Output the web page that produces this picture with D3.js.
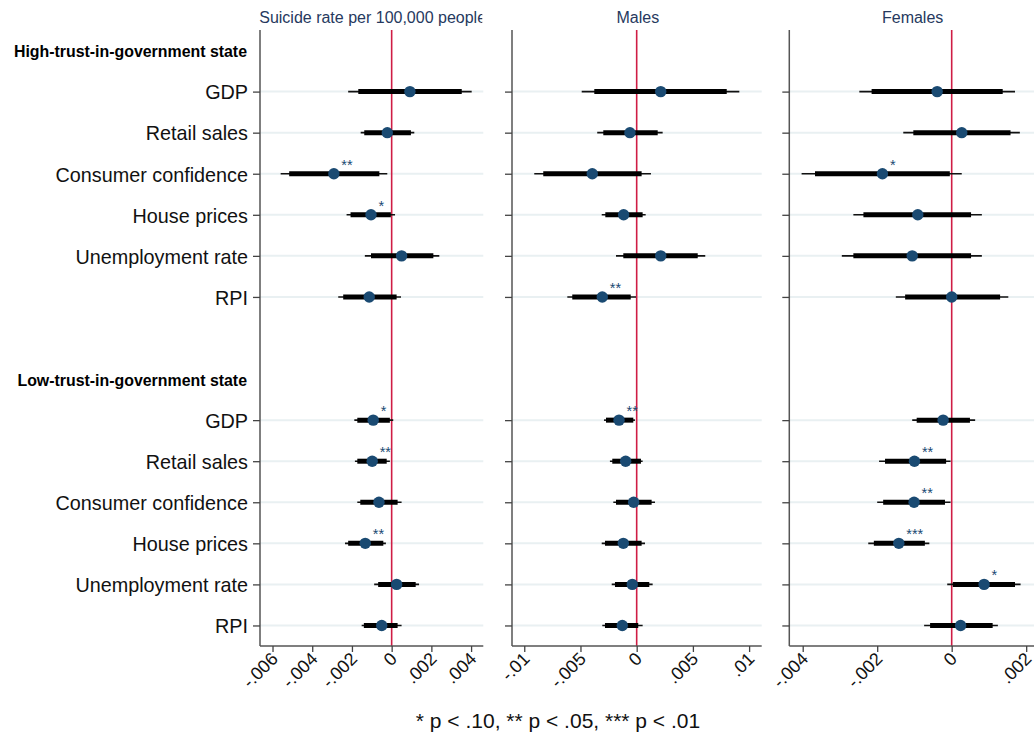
<!DOCTYPE html>
<html>
<head>
<meta charset="utf-8">
<script src="https://cdn.jsdelivr.net/npm/d3@7"></script>
<style>
  html, body { margin: 0; padding: 0; background: #fff; }
  svg { display: block; font-family: "Liberation Sans", Arial, Helvetica, sans-serif; }
</style>
</head>
<body>
<svg id="chart" width="1034" height="738"></svg>
<script>
// Row and group labels
const rowLabels = ["GDP", "Retail sales", "Consumer confidence", "House prices", "Unemployment rate", "RPI"];
const groupLabels = ["High-trust-in-government state", "Low-trust-in-government state"];
const panelTitles = ["Suicide rate per 100,000 people", "Males", "Females"];
const footnote = "* p < .10, ** p < .05, *** p < .01";

// Tick values of each panel's x axis
const totalTicks = [-0.006, -0.004, -0.002, 0, 0.002, 0.004];
const maleTicks = [-0.01, -0.005, 0, 0.005, 0.01];
const femaleTicks = [-0.004, -0.002, 0, 0.002];

// Coefficients: first 6 = high-trust state, last 6 = low-trust state
const totalEst = [0.00092, -0.00022, -0.00291, -0.00104, 0.0005, -0.00113,
                  -0.00093, -0.00098, -0.00064, -0.00133, 0.00025, -0.0005];
const totalCi90 = [[-0.00168, 0.00353], [-0.00138, 0.00097], [-0.00516, -0.00062], [-0.00207, -0.00004], [-0.00104, 0.0021], [-0.00244, 0.00025],
                   [-0.00173, -0.00009], [-0.00173, -0.00025], [-0.00158, 0.0003], [-0.00219, -0.00042], [-0.00068, 0.00121], [-0.0014, 0.0003]];
const totalCi95 = [[-0.00219, 0.00403], [-0.00156, 0.00114], [-0.00559, -0.00022], [-0.00227, 0.00017], [-0.00135, 0.0024], [-0.00269, 0.00047],
                   [-0.00188, 0.00008], [-0.00185, -0.00009], [-0.00173, 0.0005], [-0.00235, -0.00029], [-0.00088, 0.00138], [-0.00151, 0.0005]];
const totalStars = ["", "", "**", "*", "", "", "*", "**", "", "**", "", ""];

const maleEst = [0.00214, -0.0006, -0.00395, -0.00116, 0.00214, -0.00306,
                 -0.00157, -0.00098, -0.00027, -0.00119, -0.00039, -0.00128];
const maleCi90 = [[-0.00377, 0.00801], [-0.00297, 0.00187], [-0.00831, 0.00044], [-0.00279, 0.00053], [-0.00119, 0.00543], [-0.00573, -0.00053],
                  [-0.00273, -0.0003], [-0.00217, 0.00038], [-0.00184, 0.00133], [-0.00282, 0.00044], [-0.00193, 0.00112], [-0.00282, 0.00014]];
const maleCi95 = [[-0.00489, 0.00913], [-0.00351, 0.00231], [-0.00911, 0.00127], [-0.00311, 0.0008], [-0.00184, 0.0061], [-0.00617, -0.00006],
                  [-0.00291, -0.00015], [-0.00238, 0.00053], [-0.00208, 0.00163], [-0.00311, 0.00074], [-0.00222, 0.00142], [-0.00306, 0.00053]];
const maleStars = ["", "", "", "", "", "**", "**", "", "", "", "", ""];

const femaleEst = [-0.00039, 0.00027, -0.00186, -0.00091, -0.00106, 0.0,
                   -0.00023, -0.001, -0.00101, -0.00142, 0.00087, 0.00024];
const femaleCi90 = [[-0.00215, 0.00137], [-0.00103, 0.00158], [-0.00367, -0.00005], [-0.00237, 0.00052], [-0.00264, 0.00052], [-0.00125, 0.0013],
                    [-0.00094, 0.00049], [-0.00179, -0.00015], [-0.00184, -0.00018], [-0.00209, -0.00072], [0.00003, 0.0017], [-0.00058, 0.0011]];
const femaleCi95 = [[-0.00248, 0.0017], [-0.0013, 0.00183], [-0.00403, 0.00027], [-0.00264, 0.00081], [-0.00295, 0.00081], [-0.0015, 0.00152],
                    [-0.00106, 0.00063], [-0.00195, -0.00003], [-0.002, -0.00003], [-0.00224, -0.0006], [-0.00012, 0.00185], [-0.00074, 0.00124]];
const femaleStars = ["", "", "*", "", "", "", "", "**", "**", "***", "*", ""];

// ---- layout ----
const svg = d3.select("#chart");
const plotTop = 30, plotBottom = 646;
const navy = "#1a4a72";
const zeroRed = "#cf1d45";
const gridCol = "#e9f0f2";

// Vertical slots: header, 6 rows, spacer, header, 6 rows
const slots = ["h0", ...rowLabels.map((_, i) => "a" + i), "gap", "h1", ...rowLabels.map((_, i) => "b" + i)];
const y = d3.scalePoint().domain(slots).range([plotTop, plotBottom]).padding(0.5);
const rowKey = i => (i < 6 ? "a" + i : "b" + (i - 6));
const rowKeys = d3.range(12).map(rowKey);

const panels = [
  { title: panelTitles[0], left: 260, right: 483.3, domain: [-0.00663, 0.004615], ticks: totalTicks,
    est: totalEst, ci90: totalCi90, ci95: totalCi95, stars: totalStars, labels: true },
  { title: panelTitles[1], left: 512, right: 761.7, domain: [-0.01109, 0.01112], ticks: maleTicks,
    est: maleEst, ci90: maleCi90, ci95: maleCi95, stars: maleStars, labels: false },
  { title: panelTitles[2], left: 789.3, right: 1034, domain: [-0.00436, 0.00221], ticks: femaleTicks,
    est: femaleEst, ci90: femaleCi90, ci95: femaleCi95, stars: femaleStars, labels: false }
];

// Stata-style tick labels: no leading zero, plain hyphen for minus
const fmt = v => (v === 0 ? "0" : d3.format(".3~f")(v).replace("\u2212", "-").replace("0.", "."));

panels.forEach((p, pi) => {
  const x = d3.scaleLinear().domain(p.domain).range([p.left, p.right]);
  const g = svg.append("g");

  // light row guides
  g.selectAll("line.grid").data(rowKeys).join("line")
    .attr("x1", p.left).attr("x2", p.right)
    .attr("y1", d => y(d)).attr("y2", d => y(d))
    .attr("stroke", gridCol).attr("stroke-width", 2);

  // zero reference line
  g.append("line")
    .attr("x1", x(0)).attr("x2", x(0)).attr("y1", plotTop).attr("y2", plotBottom)
    .attr("stroke", zeroRed).attr("stroke-width", 1.6);

  // left axis with row ticks
  const yAxis = d3.axisLeft(y).tickValues(rowKeys).tickSize(7).tickPadding(5)
    .tickFormat(k => (p.labels ? rowLabels[+k.slice(1)] : ""));
  const ya = g.append("g").attr("transform", `translate(${p.left},0)`).call(yAxis);
  ya.select(".domain").attr("d", `M0,${plotTop}V${plotBottom}`).attr("stroke", "#555").attr("stroke-width", 1.5);
  ya.selectAll(".tick line").attr("stroke", "#444").attr("stroke-width", 1.3);
  ya.selectAll(".tick text").attr("font-size", 19.8).attr("fill", "#111").attr("dy", "0.37em")
    .attr("font-family", "Liberation Sans, Arial, sans-serif");

  // bottom axis
  const xAxis = d3.axisBottom(x).tickValues(p.ticks).tickSize(6).tickFormat(fmt);
  const xa = g.append("g").attr("transform", `translate(0,${plotBottom})`).call(xAxis);
  xa.select(".domain").attr("d", `M${p.left},0H${p.right}`).attr("stroke", "#555").attr("stroke-width", 1.5);
  xa.selectAll(".tick line").attr("stroke", "#444").attr("stroke-width", 1.3);
  xa.selectAll(".tick text")
    .attr("font-size", 18).attr("fill", "#111")
    .attr("font-family", "Liberation Sans, Arial, sans-serif")
    .attr("text-anchor", "end")
    .attr("dy", null)
    .attr("x", null).attr("y", null)
    .attr("transform", "translate(6,14) rotate(-45)");

  // 95% intervals (thin)
  g.selectAll("line.ci95").data(p.ci95).join("line")
    .attr("x1", d => x(d[0])).attr("x2", d => x(d[1]))
    .attr("y1", (d, i) => y(rowKey(i))).attr("y2", (d, i) => y(rowKey(i)))
    .attr("stroke", "#111").attr("stroke-width", 1.6);

  // 90% intervals (thick)
  g.selectAll("line.ci90").data(p.ci90).join("line")
    .attr("x1", d => x(d[0])).attr("x2", d => x(d[1]))
    .attr("y1", (d, i) => y(rowKey(i))).attr("y2", (d, i) => y(rowKey(i)))
    .attr("stroke", "#000").attr("stroke-width", 5);

  // point estimates
  g.selectAll("circle.est").data(p.est).join("circle")
    .attr("cx", d => x(d)).attr("cy", (d, i) => y(rowKey(i)))
    .attr("r", 5.7).attr("fill", navy);

  // significance stars
  g.selectAll("text.star").data(p.est).join("text")
    .attr("x", d => x(d) + 7.5).attr("y", (d, i) => y(rowKey(i)) - 4)
    .attr("font-size", 14.5).attr("fill", navy)
    .text((d, i) => p.stars[i]);

  // panel title, clipped to the panel width
  const clipId = "clip" + pi;
  svg.append("clipPath").attr("id", clipId).append("rect")
    .attr("x", p.left - 4).attr("y", 0).attr("width", p.right - p.left + 3).attr("height", plotTop);
  svg.append("text")
    .attr("clip-path", `url(#${clipId})`)
    .attr("x", (p.left + p.right) / 2 + 1).attr("y", 23)
    .attr("text-anchor", "middle").attr("font-size", 16).attr("fill", "#26395e")
    .text(p.title);
});

// group headers
svg.selectAll("text.hdr").data(groupLabels).join("text")
  .attr("x", 247).attr("y", (d, i) => y("h" + i) + 6.5)
  .attr("text-anchor", "end").attr("font-size", 15.9).attr("font-weight", "bold").attr("fill", "#000")
  .text(d => d);

// footnote
svg.append("text")
  .attr("x", 558).attr("y", 728).attr("text-anchor", "middle")
  .attr("font-size", 21).attr("fill", "#111")
  .text(footnote);
</script>
</body>
</html>
